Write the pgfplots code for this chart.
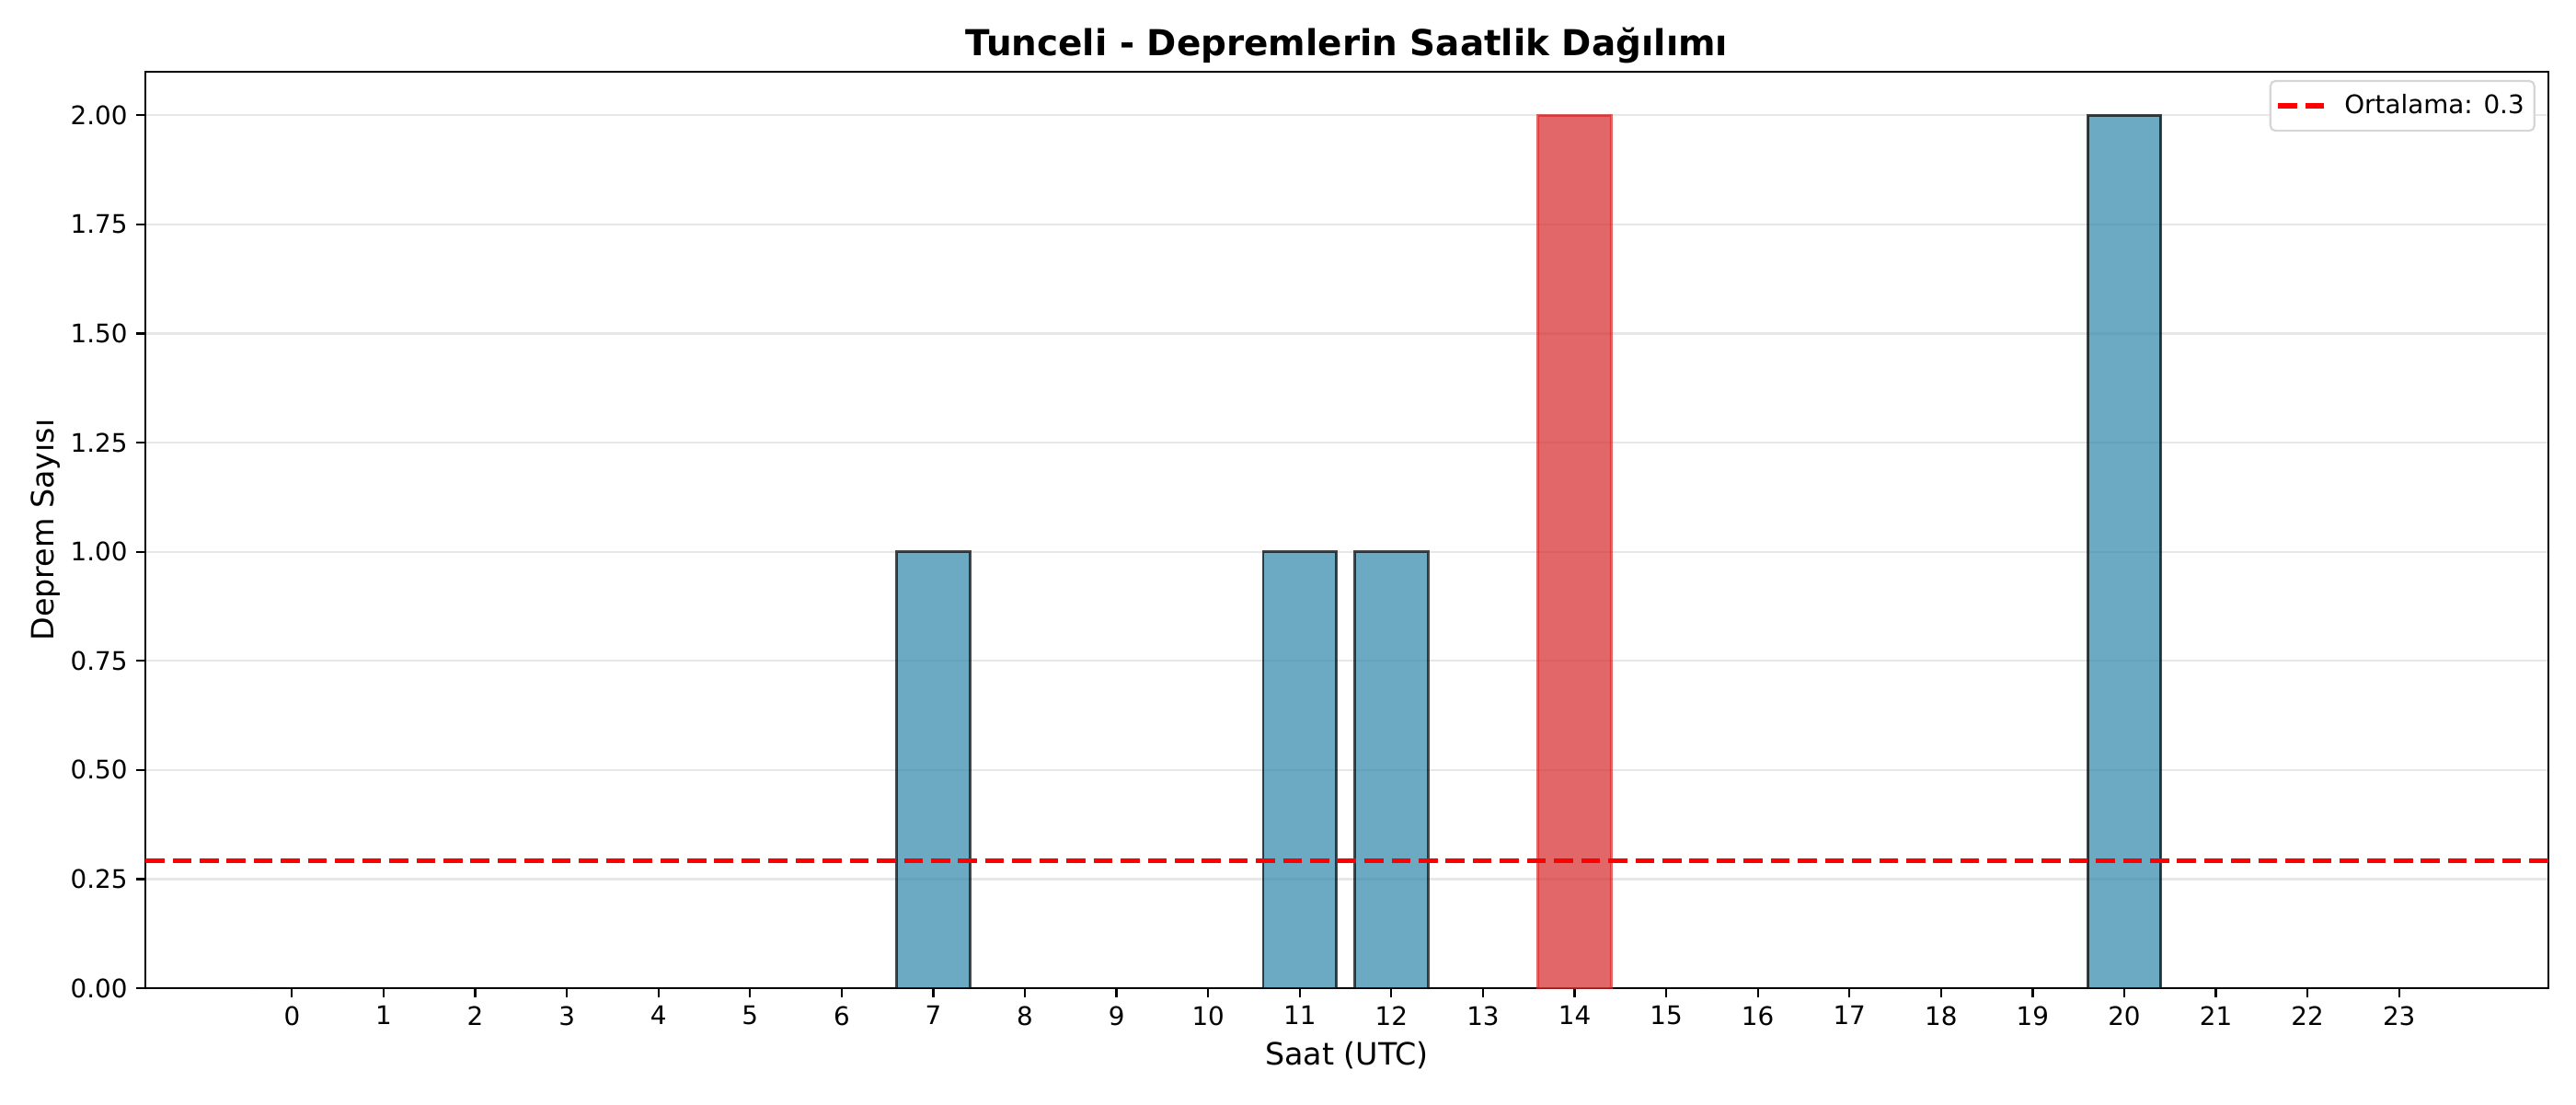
\documentclass[border=0pt]{standalone}
\usepackage{fontspec}
\setmainfont{DejaVu Sans}
\usepackage{pgfplots}
\pgfplotsset{compat=1.18}
\definecolor{barblue}{HTML}{2E86AB}
\definecolor{barred}{HTML}{D62728}
\definecolor{gridgray}{HTML}{E7E7E7}
\definecolor{leggray}{HTML}{D6D6D6}
\begin{document}
\begin{tikzpicture}
\useasboundingbox (0,0) rectangle (1008pt,432pt);
\begin{axis}[
  at={(56.9pt,45.36pt)}, anchor=south west,
  scale only axis, width=940.3pt, height=358.6pt,
  xmin=-1.6, xmax=24.63, ymin=0, ymax=2.1,
  xtick={0,1,2,3,4,5,6,7,8,9,10,11,12,13,14,15,16,17,18,19,20,21,22,23},
  ytick={0,0.25,0.5,0.75,1,1.25,1.5,1.75,2},
  /pgf/number format/assume math mode=true,
  yticklabel style={/pgf/number format/.cd, fixed, fixed zerofill, precision=2},
  tick label style={font=\fontsize{10}{12}\selectfont},
  tick align=outside, tick pos=left,
  major tick length=3.5pt,
  tick style={black, line width=0.8pt},
  axis line style={line width=0.8pt},
  ymajorgrids, grid style={gridgray, line width=0.8pt},
  xlabel={Saat (UTC)},
  xlabel style={font=\fontsize{12}{14}\selectfont, at={(axis description cs:0.5,-0.0736)}, anchor=center},
  ylabel={Deprem Sayısı},
  ylabel style={font=\fontsize{12}{14}\selectfont, at={(axis description cs:-0.0415,0.5)}, anchor=center},
  legend style={at={(axis description cs:0.9946,0.991)}, anchor=north east,
    draw=leggray, line width=0.8pt, rounded corners=2pt,
    font=\fontsize{10}{12}\selectfont, inner xsep=2pt, inner ysep=3.2pt},
  legend image code/.code={\draw[#1] (0pt,0pt) -- (18pt,0pt); \path (23pt,0pt);},
  after end axis/.code={
    \node[font=\fontsize{14}{17}\selectfont\bfseries, anchor=base, inner sep=0pt]
      at (axis description cs:0.5,1.017) {Tunceli - Depremlerin Saatlik Dağılımı};
  },
]
\addplot[ybar, bar width=0.8, fill=barblue, fill opacity=0.7, draw=black, draw opacity=0.7, line width=1pt, forget plot]
coordinates {(0,0) (1,0) (2,0) (3,0) (4,0) (5,0) (6,0) (7,1) (8,0) (9,0) (10,0) (11,1) (12,1) (13,0)
 (15,0) (16,0) (17,0) (18,0) (19,0) (20,2) (21,0) (22,0) (23,0)};
\addplot[ybar, bar width=0.8, fill=barred, fill opacity=0.7, draw=barred, draw opacity=0.7, line width=1pt, forget plot]
coordinates {(14,2)};
\addplot[red, line width=2pt, dash pattern=on 7.4pt off 3.2pt]
coordinates {(-1.6,0.2917) (24.63,0.2917)};
\addlegendentry{Ortalama: 0.3}
\end{axis}
\end{tikzpicture}
\end{document}
